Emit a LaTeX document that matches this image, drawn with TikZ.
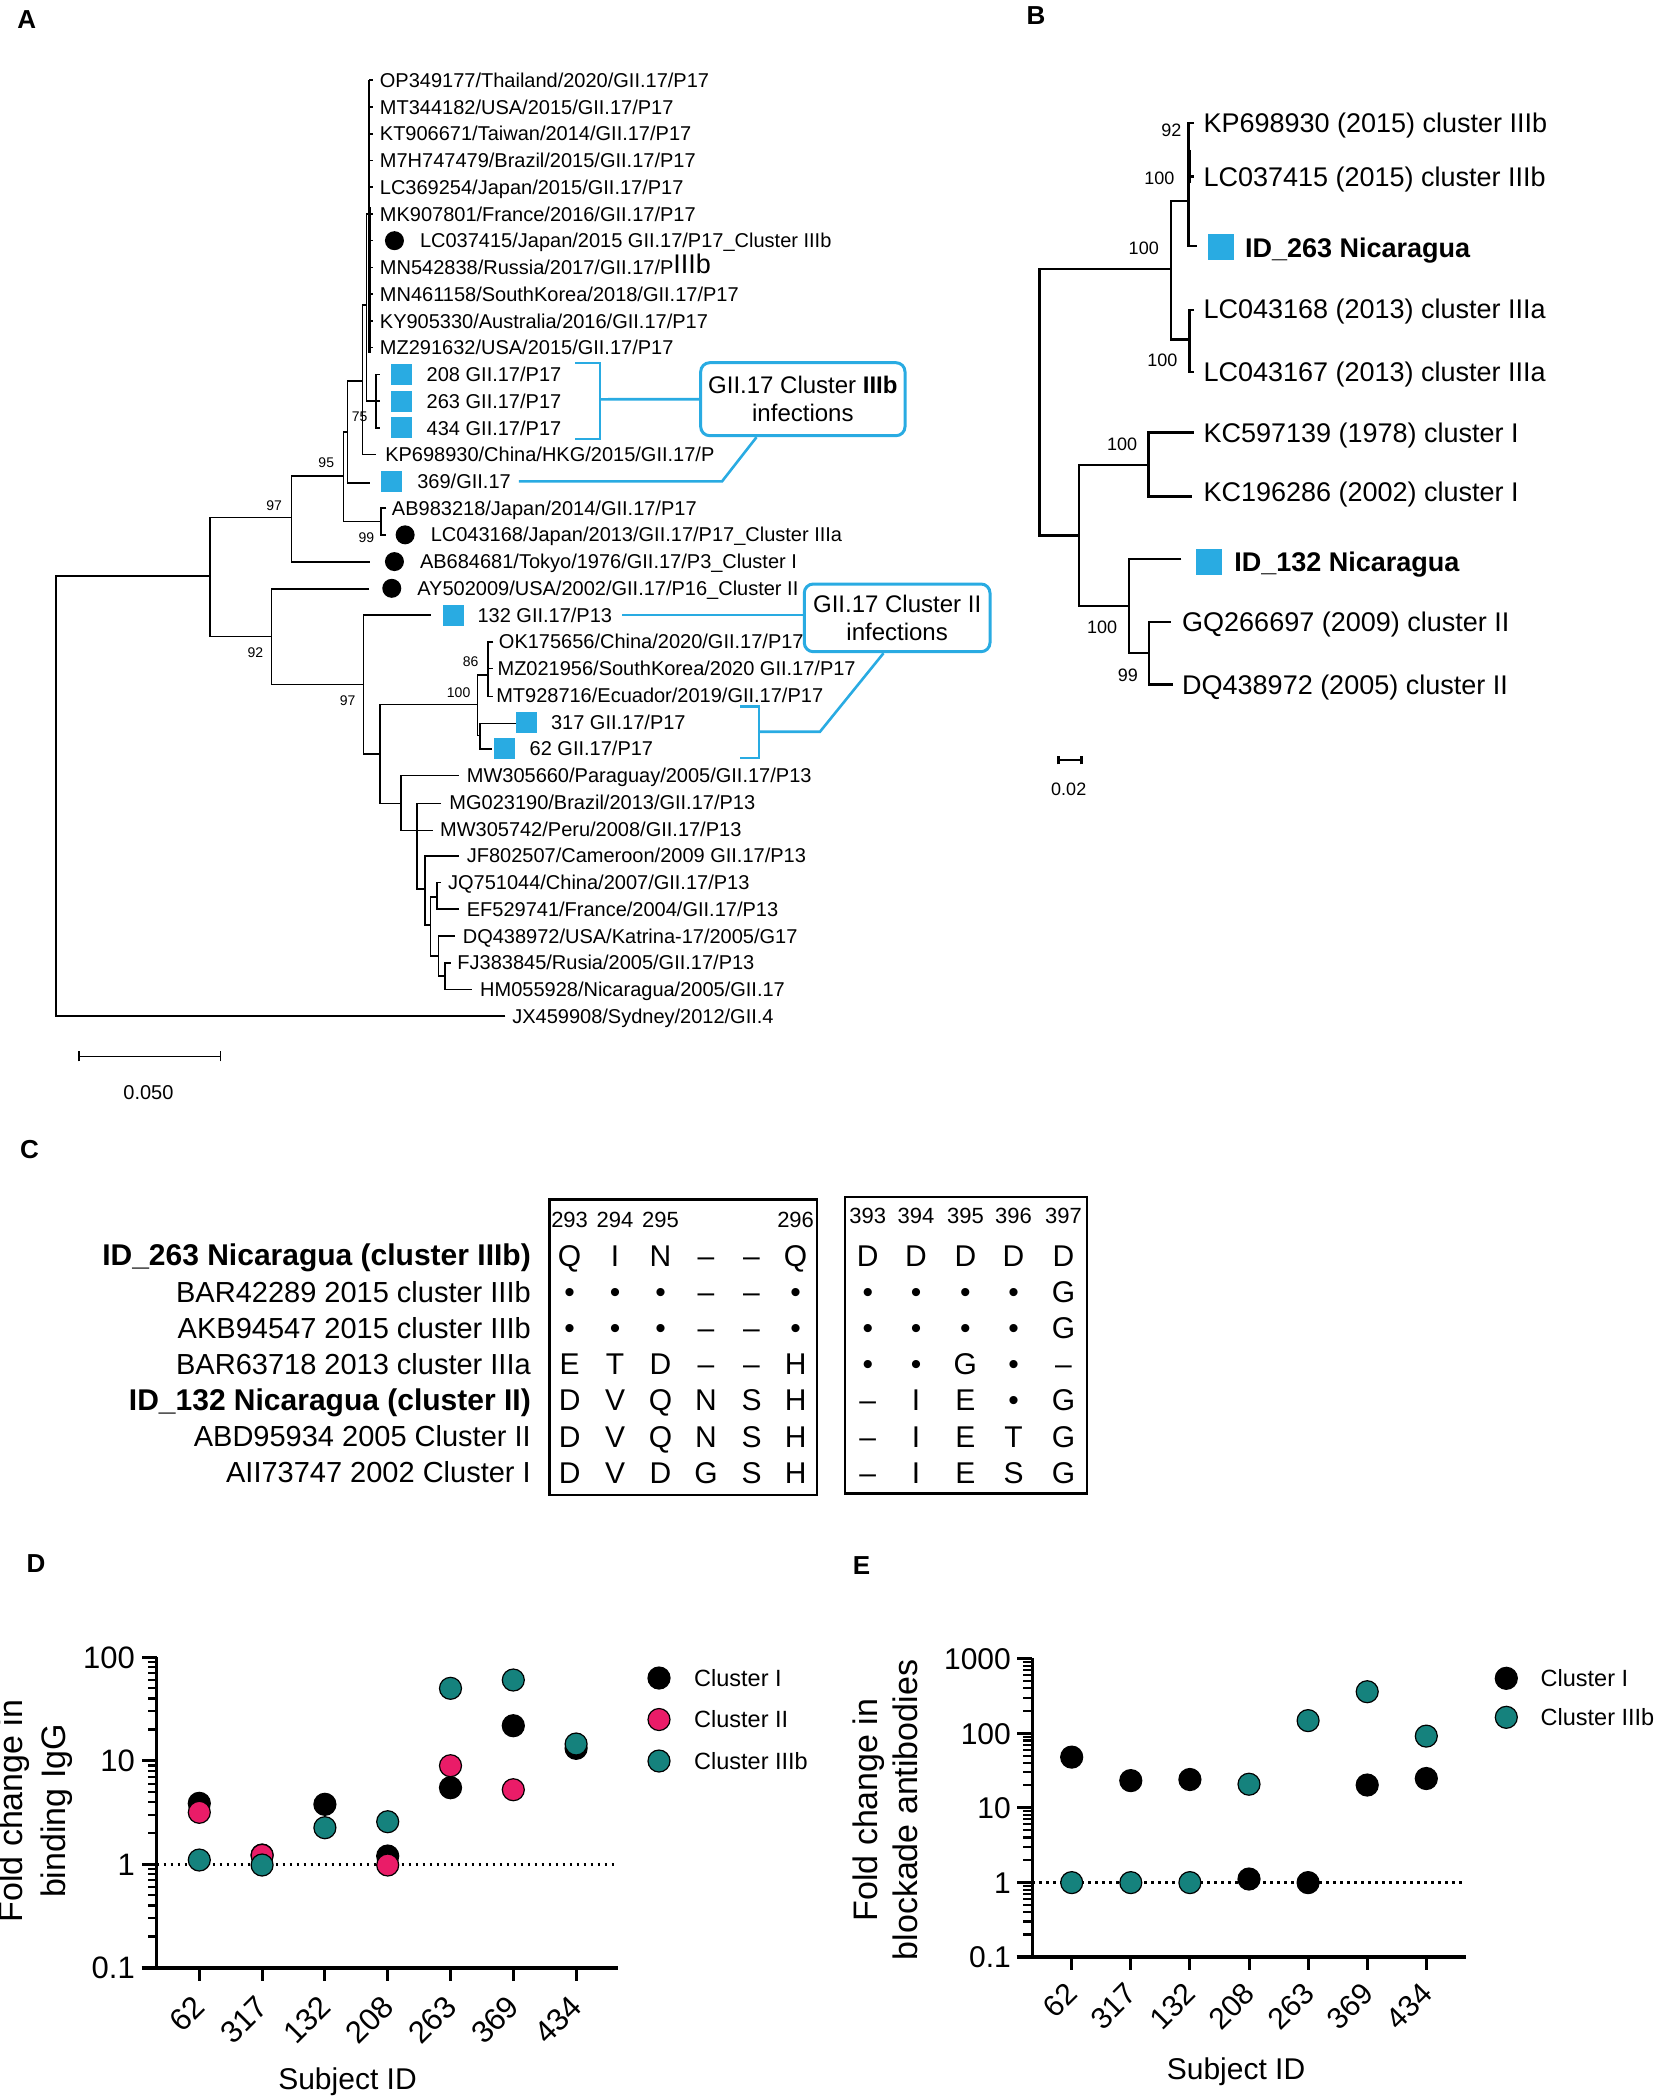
\documentclass[tikz,border=0pt]{standalone}
\usepackage{fontspec}
\setmainfont{Liberation Sans}
\usetikzlibrary{calc}
\definecolor{cyanbox}{RGB}{41,171,226}
\definecolor{tealdot}{RGB}{21,130,125}
\definecolor{pinkdot}{RGB}{234,28,104}
\newcommand\fsz[2]{\fontsize{#1}{#2}\selectfont}
\begin{document}
\begin{tikzpicture}[x=1pt,y=-1pt,
  panel/.style={inner sep=0pt,font=\bfseries\fsz{26}{30}},
  tipA/.style={anchor=west,inner sep=0pt,font=\fsz{20}{24},text height=14.3pt,text depth=0pt},
  bsA/.style={inner sep=0pt,font=\fsz{14}{16}},
  sqA/.style={fill=cyanbox,minimum size=21pt,inner sep=0pt},
  dotA/.style={circle,fill=black,minimum size=19pt,inner sep=0pt},
  treeA/.style={line width=1.6pt},
  callout/.style={draw=cyanbox,line width=3pt,rounded corners=9pt,align=center,inner sep=0pt,font=\fsz{24}{28}},
  cline/.style={draw=cyanbox,line width=2.6pt},
  tipB/.style={anchor=west,inner sep=0pt,font=\fsz{27}{30},text height=19.3pt,text depth=0pt},
  treeB/.style={line width=2.4pt},
  bsB/.style={inner sep=0pt,font=\fsz{18}{20}},
  sqB/.style={fill=cyanbox,minimum size=26pt,inner sep=0pt},
  lblC/.style={anchor=east,inner sep=0pt,font=\fsz{29}{32},text height=20.8pt,text depth=0pt},
  resC/.style={inner sep=0pt,font=\fsz{30}{32},text height=21.5pt,text depth=0pt},
  hdrC/.style={inner sep=0pt,font=\fsz{22}{24},text height=15.8pt,text depth=0pt},
  axisl/.style={line width=3.5pt},
  tickm/.style={line width=3pt},
  ticks/.style={line width=2.2pt},
  tickD/.style={anchor=east,inner sep=0pt,font=\fsz{31}{34},text height=22.2pt,text depth=0pt},
  tickE/.style={anchor=east,inner sep=0pt,font=\fsz{30}{34},text height=21.5pt,text depth=0pt},
  xlab/.style={anchor=east,rotate=45,inner sep=0pt,font=\fsz{31}{34},text height=22.2pt,text depth=0pt},
  mk/.style={circle,draw=black,line width=1.2pt,minimum size=22pt,inner sep=0pt},
  leg/.style={anchor=west,inner sep=0pt,font=\fsz{23.5}{26},text height=16.8pt,text depth=0pt},
  dotline/.style={line width=2.6pt,dash pattern=on 2.6pt off 4.4pt},
  ylab/.style={rotate=90,align=center,inner sep=0pt},
  xtitle/.style={inner sep=0pt,font=\fsz{30}{34}}
]
\useasboundingbox (0,0) rectangle (1654,2097);

% ---------------- panel letters
\node[panel] (pA) at (26.7,20) {A};
\node[panel] (pB) at (1036,16) {B};
\node[panel] (pC) at (29.5,1150) {C};
\node[panel] (pD) at (36,1564) {D};
\node[panel] (pE) at (861.5,1566) {E};

% ---------------- panel A
\begin{scope}[x=1.3371pt,y=-1.3371pt]
\draw[treeA] (378,760) -| (42,431) -- (157,431);
\draw[treeA] (218,387) -| (157,476) -- (203,476);
\draw[treeA] (257,356) -| (218,420.5) -- (277,420.5);
\draw[treeA] (260,323) -| (257,390) -- (285,390);
\draw[treeA] (289,380) -| (285,400) -- (289,400);
\draw[treeA] (271,285) -| (260,361) -- (277,361);
\draw[treeA] (274,228) -| (271,340) -- (281,340);
\draw[treeA] (276,160) -| (274,300) -- (281,300);
\draw[treeA] (284,280) -| (281,320) -- (284,320);
\draw[treeA] (281,300) -- (284,300);
\draw[treeA] (276,60) -- (276,264);
\foreach \yy in {60,80,...,260} \draw[treeA] (276,\yy) -- (279,\yy);
\draw[line width=3pt] (276,155) -- (276,264);
\draw[treeA] (276,440.5) -| (203,512) -- (272,512);
\draw[treeA] (322,460) -| (272,564) -- (284,564);
\draw[treeA] (357,527) -| (284,601) -- (300,601);
\draw[treeA] (365,505) -| (357,550) -- (359,550);
\draw[treeA] (369,480) -| (365,521) -- (369,521);
\draw[treeA] (365,500) -- (369,500);
\draw[treeA] (386,541) -| (359,560) -- (368,560);
\draw[treeA] (343,580) -| (300,621) -- (324,621);
\draw[treeA] (330,601) -| (312,665) -- (318,665);
\draw[treeA] (343,640) -| (318,692) -- (322,692);
\draw[treeA] (327,671) -| (322,715) -- (328,715);
\draw[treeA] (330,660) -| (327,680) -- (343,680);
\draw[treeA] (340,700) -| (328,730) -- (333,730);
\draw[treeA] (337,720) -| (333,740) -- (353,740);
% scale bar
\coordinate (sbA1) at (59,790);
\coordinate (sbA2) at (165,790);
\draw[treeA] (sbA1) -- (sbA2);
\draw[treeA] ([yshift=-5pt]sbA1) -- ([yshift=5pt]sbA1);
\draw[treeA] ([yshift=-5pt]sbA2) -- ([yshift=5pt]sbA2);
\node[inner sep=0pt,font=\fsz{20}{24}] (sbAl) at (111,817) {0.050};
% bootstrap values
\node[bsA] (b1) at (205,378) {97};
\node[bsA] (b2) at (244,346) {95};
\node[bsA] (b3) at (269,312) {75};
\node[bsA] (b4) at (274,402) {99};
\node[bsA] (b5) at (191,488) {92};
\node[bsA] (b6) at (260,524) {97};
\node[bsA] (b7) at (352,495) {86};
\node[bsA] (b8) at (343,518) {100};
% tips
\node[tipA] (a1) at (284,60) {OP349177/Thailand/2020/GII.17/P17};
\node[tipA] (a2) at (284,80) {MT344182/USA/2015/GII.17/P17};
\node[tipA] (a3) at (284,100) {KT906671/Taiwan/2014/GII.17/P17};
\node[tipA] (a4) at (284,120) {M7H747479/Brazil/2015/GII.17/P17};
\node[tipA] (a5) at (284,140) {LC369254/Japan/2015/GII.17/P17};
\node[tipA] (a6) at (284,160) {MK907801/France/2016/GII.17/P17};
\node[dotA] (m7) at (295,180) {};
\node[tipA] (a7) at (314,180) {LC037415/Japan/2015 GII.17/P17\_Cluster IIIb};
\node[tipA] (a8) at (284,200) {MN542838/Russia/2017/GII.17/P\raisebox{1pt}{\fsz{27}{30}IIIb}};
\node[tipA] (a9) at (284,220) {MN461158/SouthKorea/2018/GII.17/P17};
\node[tipA] (a10) at (284,240) {KY905330/Australia/2016/GII.17/P17};
\node[tipA] (a11) at (284,260) {MZ291632/USA/2015/GII.17/P17};
\node[sqA] (m12) at (300,280) {};
\node[tipA] (a12) at (319,280) {208 GII.17/P17};
\node[sqA] (m13) at (300,300) {};
\node[tipA] (a13) at (319,300) {263 GII.17/P17};
\node[sqA] (m14) at (300,320) {};
\node[tipA] (a14) at (319,320) {434 GII.17/P17};
\node[tipA] (a15) at (288,340) {KP698930/China/HKG/2015/GII.17/P};
\node[sqA] (m16) at (293,360) {};
\node[tipA] (a16) at (312,360) {369/GII.17};
\node[tipA] (a17) at (293,380) {AB983218/Japan/2014/GII.17/P17};
\node[dotA] (m18) at (303,400) {};
\node[tipA] (a18) at (322,400) {LC043168/Japan/2013/GII.17/P17\_Cluster IIIa};
\node[dotA] (m19) at (295,420) {};
\node[tipA] (a19) at (314,420) {AB684681/Tokyo/1976/GII.17/P3\_Cluster I};
\node[dotA] (m20) at (293,440) {};
\node[tipA] (a20) at (312,440) {AY502009/USA/2002/GII.17/P16\_Cluster II};
\node[sqA] (m21) at (339,460) {};
\node[tipA] (a21) at (357,460) {132 GII.17/P13};
\node[tipA] (a22) at (373,480) {OK175656/China/2020/GII.17/P17};
\node[tipA] (a23) at (372,500) {MZ021956/SouthKorea/2020 GII.17/P17};
\node[tipA] (a24) at (371,520) {MT928716/Ecuador/2019/GII.17/P17};
\node[sqA] (m25) at (394,540) {};
\node[tipA] (a25) at (412,540) {317 GII.17/P17};
\node[sqA] (m26) at (377,560) {};
\node[tipA] (a26) at (396,560) {62 GII.17/P17};
\node[tipA] (a27) at (349,580) {MW305660/Paraguay/2005/GII.17/P13};
\node[tipA] (a28) at (336,600) {MG023190/Brazil/2013/GII.17/P13};
\node[tipA] (a29) at (329,620) {MW305742/Peru/2008/GII.17/P13};
\node[tipA] (a30) at (349,640) {JF802507/Cameroon/2009 GII.17/P13};
\node[tipA] (a31) at (335,660) {JQ751044/China/2007/GII.17/P13};
\node[tipA] (a32) at (349,680) {EF529741/France/2004/GII.17/P13};
\node[tipA] (a33) at (346,700) {DQ438972/USA/Katrina-17/2005/G17};
\node[tipA] (a34) at (342,720) {FJ383845/Rusia/2005/GII.17/P13};
\node[tipA] (a35) at (359,740) {HM055928/Nicaragua/2005/GII.17};
\node[tipA] (a36) at (383,760) {JX459908/Sydney/2012/GII.4};
\end{scope}

% callouts A
\node[callout,minimum width=204.3pt,minimum height=73pt] (cbIIIb) at (802.85,399.2) {GII.17 Cluster \textbf{IIIb}\\infections};
\coordinate (brIIIb) at (600,399.3);
\draw[cline] (575,363) -- (600,363) -- (600,439) -- (575,439);
\draw[cline] (brIIIb) -- (cbIIIb.west);
\draw[cline] ([xshift=8pt]a16.east) -- (722,481.4) -- ($(cbIIIb.south west)+(57.3,0)$);

\node[callout,minimum width=185.7pt,minimum height=67.7pt] (cbII) at (897.15,617.85) {GII.17 Cluster II\\infections};
\coordinate (brII) at (759,731.7);
\draw[cline] ([xshift=10pt]a21.east) -- (cbII.west |- a21.east);
\draw[cline] (740,706.7) -- (759,706.7) -- (759,758) -- (740,758);
\draw[cline] (brII) -- (820,731.7) -- ($(cbII.south west)+(80.7,0)$);

% ---------------- panel B
\begin{scope}[x=1.3371pt,y=-1.3371pt]
\draw[treeB] (807,400.5) -| (777.5,201) -- (875.7,201);
\draw[treeB] (889,150.4) -| (875.7,254) -- (889.7,254);
\draw[treeB] (893,92) -| (889,184) -- (895,184);
\draw[treeB] (889,132) -- (893,132);
\draw[line width=4pt] (889,112) -- (889,137);
\draw[treeB] (893,231.7) -| (889.7,278.2) -- (893,278.2);
\draw[treeB] (859,347.8) -| (807,453.3) -- (844.5,453.3);
\draw[treeB] (892.8,323.6) -| (859,371.2) -- (891.2,371.2);
\draw[treeB] (883.5,418) -| (844.5,488.5) -- (859.2,488.5);
\draw[treeB] (875.7,465) -| (859.2,512) -- (877.2,512);
\coordinate (sbB1) at (791.5,568.6);
\coordinate (sbB2) at (808.7,568.6);
\draw[treeB] (sbB1) -- (sbB2);
\draw[treeB] ([yshift=-4pt]sbB1) -- ([yshift=4pt]sbB1);
\draw[treeB] ([yshift=-4pt]sbB2) -- ([yshift=4pt]sbB2);
\node[bsB] (sbBl) at (799.3,590) {0.02};
\node[bsB] (c1) at (876,97.7) {92};
\node[bsB] (c2) at (867,133) {100};
\node[bsB] (c3) at (855.4,185.6) {100};
\node[bsB] (c4) at (869.4,269.6) {100};
\node[bsB] (c5) at (839.2,332.2) {100};
\node[bsB] (c6) at (824.3,469) {100};
\node[bsB] (c7) at (843.6,505.3) {99};
\node[tipB] (t1) at (900,92) {KP698930 (2015) cluster IIIb};
\node[tipB] (t2) at (900,132) {LC037415 (2015) cluster IIIb};
\node[sqB] (s3) at (913,185) {};
\node[tipB,font=\bfseries\fsz{27}{30}] (t3) at (931,185) {ID\_263 Nicaragua};
\node[tipB] (t4) at (900,231) {LC043168 (2013) cluster IIIa};
\node[tipB] (t5) at (900,278) {LC043167 (2013) cluster IIIa};
\node[tipB] (t6) at (900,324) {KC597139 (1978) cluster I};
\node[tipB] (t7) at (900,368) {KC196286 (2002) cluster I};
\node[sqB] (s8) at (904,420) {};
\node[tipB,font=\bfseries\fsz{27}{30}] (t8) at (923,420) {ID\_132 Nicaragua};
\node[tipB] (t9) at (884,465) {GQ266697 (2009) cluster II};
\node[tipB] (t10) at (884,512) {DQ438972 (2005) cluster II};
\end{scope}

% ---------------- panel C
\draw[line width=2.2pt] (549.5,1199.4) rectangle (817,1494.9);
\draw[line width=2.2pt] (845,1197) rectangle (1087,1493.5);
\node[hdrC] (h1) at (569.6,1219.4) {293};
\node[hdrC] (h2) at (615,1219.4) {294};
\node[hdrC] (h3) at (660.5,1219.4) {295};
\node[hdrC] (h4) at (795.6,1219.4) {296};
\node[hdrC] (h5) at (867.8,1215.4) {393};
\node[hdrC] (h6) at (916,1215.4) {394};
\node[hdrC] (h7) at (965.4,1215.4) {395};
\node[hdrC] (h8) at (1013.5,1215.4) {396};
\node[hdrC] (h9) at (1063.5,1215.4) {397};
\node[lblC,font=\bfseries\fsz{30}{32}] (l1) at (531,1255.5) {ID\_263 Nicaragua (cluster IIIb)};
\node[lblC] (l2) at (531,1291.65) {BAR42289 2015 cluster IIIb};
\node[lblC] (l3) at (531,1327.8) {AKB94547 2015 cluster IIIb};
\node[lblC] (l4) at (531,1363.95) {BAR63718 2013 cluster IIIa};
\node[lblC,font=\bfseries\fsz{30}{32}] (l5) at (531,1400.1) {ID\_132 Nicaragua (cluster II)};
\node[lblC] (l6) at (531,1436.25) {ABD95934 2005 Cluster II};
\node[lblC] (l7) at (531,1472.4) {AII73747 2002 Cluster I};
\foreach \row [count=\r] in {
  {Q,I,N,–,–,Q,D,D,D,D,D},
  {•,•,•,–,–,•,•,•,•,•,G},
  {•,•,•,–,–,•,•,•,•,•,G},
  {E,T,D,–,–,H,•,•,G,•,–},
  {D,V,Q,N,S,H,–,I,E,•,G},
  {D,V,Q,N,S,H,–,I,E,T,G},
  {D,V,D,G,S,H,–,I,E,S,G}} {
  \foreach \ch [count=\c] in \row {
    \pgfmathsetmacro\cx{{569.6,615,660.5,706,751.5,795.6,867.8,916,965.4,1013.5,1063.5}[\c-1]}
    \node[resC] (r\r c\c) at (\cx,{1255.5+36.15*(\r-1)}) {\ch};
  }
}

% ---------------- panel D
\draw[axisl] (156.7,1657) -- (156.7,1968);
\draw[axisl] (141.7,1968) -- (618,1968);
\foreach \v in {0,1,2,3} \draw[tickm] (156.7,{1967.7-103.5*\v}) -- ++(-15,0);
\foreach \d in {0,1,2} \foreach \k in {2,...,9}
  \draw[ticks] (156.7,{1967.7-103.5*(\d+log10(\k))}) -- ++(-9,0);
\node[tickD] (dy1) at (135,1657.3) {100};
\node[tickD] (dy2) at (135,1760.7) {10};
\node[tickD] (dy3) at (135,1864.3) {1};
\node[tickD] (dy4) at (135,1967.7) {0.1};
\draw[dotline] (156.7,1864.3) -- (616.7,1864.3);
\foreach \lab [count=\i] in {62,317,132,208,263,369,434} {
  \pgfmathsetmacro\xx{199.3+62.8*(\i-1)}
  \draw[tickm] (\xx,1968) -- ++(0,13);
  \node[xlab] (dx\i) at (\xx,2001) {\lab};
}
\foreach \yy [count=\i] in {1803.3,1855,1804.3,1856,1787.7,1725.7,1748.3}
  \node[mk,fill=black] (dk\i) at ({199.3+62.8*(\i-1)},\yy) {};
\foreach \i/\yy in {1/1812.3,2/1855.3,4/1865,5/1765.7,6/1789.7}
  \node[mk,fill=pinkdot] (dp\i) at ({199.3+62.8*(\i-1)},\yy) {};
\foreach \yy [count=\i] in {1860,1865,1827.7,1821.7,1688.3,1680,1744}
  \node[mk,fill=tealdot] (dt\i) at ({199.3+62.8*(\i-1)},\yy) {};
\node[ylab,font=\fsz{34}{43}] (dyl) at (35.5,1811) {Fold change in\\binding IgG};
\node[xtitle] (dxl) at (347.5,2082) {Subject ID};
\node[mk,fill=black] (dlg1) at (659,1678) {};
\node[mk,fill=pinkdot] (dlg2) at (659,1719.5) {};
\node[mk,fill=tealdot] (dlg3) at (659,1761) {};
\node[leg] (dlt1) at (694,1678) {Cluster I};
\node[leg] (dlt2) at (694,1719.5) {Cluster II};
\node[leg] (dlt3) at (694,1761) {Cluster IIIb};

% ---------------- panel E
\draw[axisl] (1032.3,1658) -- (1032.3,1957);
\draw[axisl] (1016.5,1956.8) -- (1465.8,1956.8);
\foreach \v in {0,1,2,3,4} \draw[tickm] (1032.3,{1957-74.6*\v}) -- ++(-15,0);
\foreach \d in {0,1,2,3} \foreach \k in {2,...,9}
  \draw[ticks] (1032.3,{1957-74.6*(\d+log10(\k))}) -- ++(-9,0);
\node[tickE] (ey1) at (1011,1658.4) {1000};
\node[tickE] (ey2) at (1011,1733.6) {100};
\node[tickE] (ey3) at (1011,1807.4) {10};
\node[tickE] (ey4) at (1011,1882.6) {1};
\node[tickE] (ey5) at (1011,1956.8) {0.1};
\draw[dotline] (1032.3,1882.6) -- (1465.8,1882.6);
\foreach \lab [count=\i] in {62,317,132,208,263,369,434} {
  \pgfmathsetmacro\xx{1071.7+59.1*(\i-1)}
  \draw[tickm] (\xx,1956.8) -- ++(0,13);
  \node[xlab,font=\fsz{30}{34}] (ex\i) at (\xx,1988) {\lab};
}
\foreach \yy [count=\i] in {1757.1,1780.6,1779.5,1879,1882.6,1785,1778.5}
  \node[mk,fill=black] (ek\i) at ({1071.7+59.1*(\i-1)},\yy) {};
\foreach \yy [count=\i] in {1882.6,1882.6,1882.6,1784.2,1720.6,1691.7,1736.1}
  \node[mk,fill=tealdot] (et\i) at ({1071.7+59.1*(\i-1)},\yy) {};
\node[ylab,font=\fsz{34}{40}] (eyl) at (885,1810) {Fold change in\\blockade antibodies};
\node[xtitle] (exl) at (1236,2071.4) {Subject ID};
\node[mk,fill=black] (elg1) at (1506.3,1678.3) {};
\node[mk,fill=tealdot] (elg2) at (1506.3,1717.3) {};
\node[leg] (elt1) at (1540.5,1678.3) {Cluster I};
\node[leg] (elt2) at (1540.5,1717.3) {Cluster IIIb};
\end{tikzpicture}
\end{document}
